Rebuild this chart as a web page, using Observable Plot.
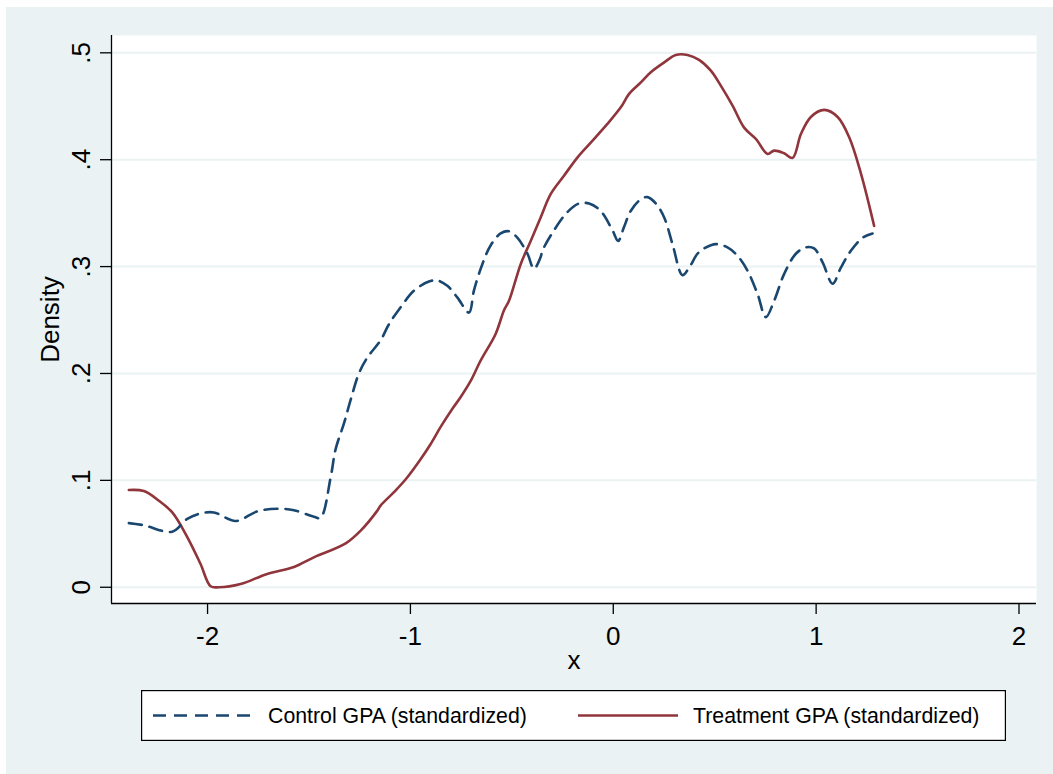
<!DOCTYPE html>
<html><head><meta charset="utf-8">
<script src="https://cdn.jsdelivr.net/npm/d3@7"></script>
<script src="https://cdn.jsdelivr.net/npm/@observablehq/plot@0.6"></script>
<style>
body{margin:0;background:#fff;}
#bg{position:absolute;left:6px;top:7px;width:1047px;height:767px;background:#EAF2F3;overflow:hidden;}
#chart{position:absolute;left:0;top:0;}
#legend{position:absolute;left:135px;top:683px;}
</style></head><body>
<div id="bg"><div id="chart"></div><div id="legend"></div></div>
<script>
// ---- data ----
const seriesNames = ["Control GPA (standardized)", "Treatment GPA (standardized)"];
const seriesColors = ["#1A476F", "#90353B"];

const controlX = [-2.388,-2.314,-2.174,-2.100,-2.035,-1.969,-1.862,-1.755,-1.656,-1.574,-1.476,-1.443,-1.393,-1.369,-1.328,-1.295,-1.254,-1.212,-1.147,-1.106,-1.048,-0.982,-0.909,-0.867,-0.818,-0.768,-0.711,-0.687,-0.645,-0.604,-0.555,-0.514,-0.473,-0.423,-0.391,-0.358,-0.349,-0.292,-0.226,-0.169,-0.119,-0.062,-0.004,0.024,0.053,0.086,0.136,0.169,0.210,0.251,0.292,0.341,0.374,0.415,0.448,0.506,0.563,0.613,0.662,0.711,0.752,0.793,0.842,0.900,0.949,0.990,1.032,1.081,1.122,1.172,1.229,1.278];
const controlY = [0.060,0.058,0.052,0.064,0.069,0.070,0.062,0.071,0.0735,0.072,0.066,0.065,0.103,0.129,0.153,0.175,0.200,0.215,0.231,0.246,0.262,0.2775,0.286,0.287,0.282,0.271,0.257,0.2775,0.3025,0.320,0.331,0.333,0.327,0.312,0.298,0.309,0.315,0.334,0.351,0.359,0.359,0.352,0.334,0.324,0.337,0.352,0.363,0.365,0.359,0.346,0.321,0.292,0.299,0.312,0.317,0.321,0.318,0.310,0.296,0.2745,0.2527,0.268,0.293,0.312,0.318,0.317,0.304,0.284,0.299,0.315,0.327,0.331];

const treatmentX = [-2.388,-2.314,-2.240,-2.174,-2.100,-2.035,-1.985,-1.944,-1.837,-1.706,-1.574,-1.476,-1.319,-1.245,-1.163,-1.147,-1.081,-1.023,-0.949,-0.900,-0.851,-0.793,-0.752,-0.703,-0.654,-0.580,-0.539,-0.514,-0.456,-0.407,-0.358,-0.308,-0.243,-0.177,-0.111,-0.029,0.037,0.078,0.136,0.185,0.251,0.308,0.366,0.423,0.481,0.530,0.588,0.645,0.703,0.761,0.793,0.842,0.884,0.925,0.974,1.040,1.106,1.163,1.221,1.286];
const treatmentY = [0.091,0.090,0.081,0.070,0.047,0.022,0.001,0.000,0.003,0.0125,0.019,0.028,0.041,0.053,0.0717,0.0764,0.089,0.101,0.120,0.134,0.150,0.167,0.178,0.193,0.212,0.237,0.259,0.268,0.3025,0.324,0.346,0.368,0.385,0.402,0.416,0.4335,0.449,0.4616,0.4724,0.4818,0.491,0.498,0.498,0.4934,0.4833,0.4693,0.4506,0.430,0.4195,0.4054,0.4085,0.406,0.4017,0.424,0.440,0.4466,0.440,0.421,0.387,0.338];

const xTicks = [-2, -1, 0, 1, 2];
const xTickLabels = ["-2", "-1", "0", "1", "2"];
const yTicks = [0, 0.1, 0.2, 0.3, 0.4, 0.5];
const yTickLabels = ["0", ".1", ".2", ".3", ".4", ".5"];
const xTitle = "x";
const yTitle = "Density";
const xDomain = [-2.4735, 2.0863];
const yDomain = [-0.0152, 0.5162];

// ---- build tables ----
const control = controlX.map((x, i) => ({x, y: controlY[i]}));
const treatment = treatmentX.map((x, i) => ({x, y: treatmentY[i]}));

const font = "'Liberation Sans', Arial, Helvetica, sans-serif";
const dash = "13,8";

const chart = Plot.plot({
  width: 1047, height: 680,
  marginLeft: 105, marginRight: 17, marginTop: 28, marginBottom: 84,
  x: {domain: xDomain},
  y: {domain: yDomain},
  style: {background: "transparent", fontFamily: font, color: "black", overflow: "visible"},
  marks: [
    Plot.frame({fill: "white", stroke: "none"}),
    Plot.gridY(yTicks, {stroke: "#EAF2F3", strokeOpacity: 1, strokeWidth: 2}),
    Plot.ruleX([xDomain[0]], {stroke: "black", strokeWidth: 1.3}),
    Plot.ruleY([yDomain[0]], {stroke: "black", strokeWidth: 1.3}),
    Plot.axisY(yTicks, {tickSize: 11, tickPadding: 19, tickRotate: -90, textAnchor: "middle", lineAnchor: "middle",
      tickFormat: d => yTickLabels[yTicks.indexOf(d)], fontSize: 26, label: null, strokeWidth: 1.3}),
    Plot.axisX(xTicks, {tickSize: 11, tickPadding: 12,
      tickFormat: d => xTickLabels[xTicks.indexOf(d)], fontSize: 26, label: null, strokeWidth: 1.3}),
    Plot.text([yTitle], {text: d => d, frameAnchor: "left", dx: -61, rotate: -90, textAnchor: "middle", lineAnchor: "middle", fontSize: 26}),
    Plot.text([xTitle], {text: d => d, frameAnchor: "bottom", dy: 57, textAnchor: "middle", lineAnchor: "middle", fontSize: 26}),
    Plot.line(treatment, {x: "x", y: "y", stroke: seriesColors[1], strokeWidth: 2.6, curve: "catmull-rom"}),
    Plot.line(control, {x: "x", y: "y", stroke: seriesColors[0], strokeWidth: 2.6, strokeDasharray: dash, curve: "catmull-rom"})
  ]
});
document.getElementById("chart").appendChild(chart);

// ---- legend ----
const lw = 865, lh = 51;
const lsvg = d3.select("#legend").append("svg").attr("width", lw).attr("height", lh)
  .style("font-family", font);
lsvg.append("rect").attr("x", 0.6).attr("y", 0.6).attr("width", lw - 1.2).attr("height", lh - 1.2)
  .attr("fill", "white").attr("stroke", "black").attr("stroke-width", 1.2);
const entries = [
  {name: seriesNames[0], color: seriesColors[0], dash: dash, x0: 12, x1: 111, tx: 127},
  {name: seriesNames[1], color: seriesColors[1], dash: null, x0: 437, x1: 537, tx: 552}
];
for (const e of entries) {
  lsvg.append("line").attr("x1", e.x0).attr("x2", e.x1).attr("y1", 25.5).attr("y2", 25.5)
    .attr("stroke", e.color).attr("stroke-width", 2.6).attr("stroke-dasharray", e.dash);
  lsvg.append("text").attr("x", e.tx).attr("y", 25.5).attr("dy", "0.35em")
    .attr("font-size", 21.3).attr("fill", "black").text(e.name);
}
</script>
</body></html>
